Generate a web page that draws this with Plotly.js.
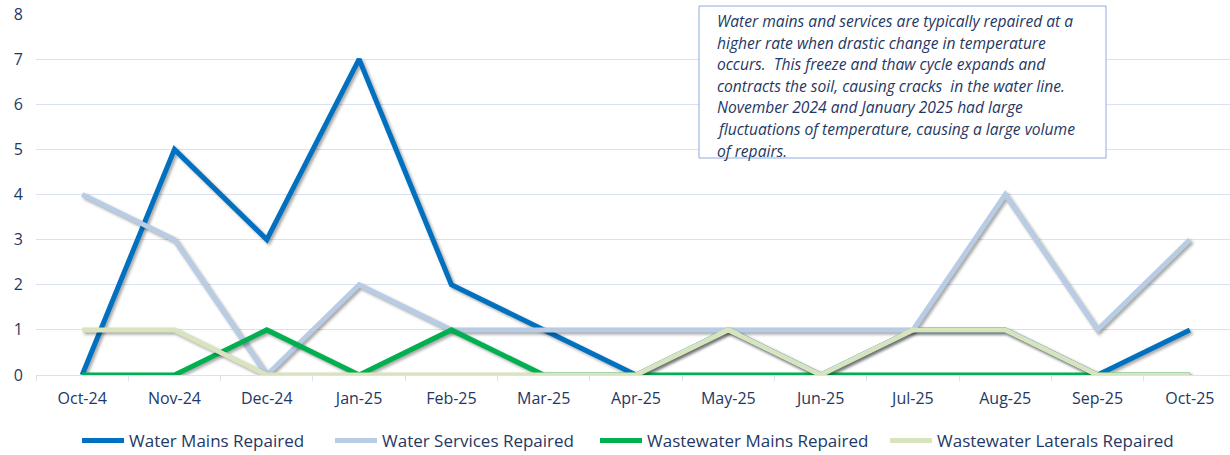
<!DOCTYPE html>
<html>
<head>
<meta charset="utf-8">
<script src="https://cdn.plot.ly/plotly-3.0.1.min.js"></script>
<style>
html,body{margin:0;padding:0;background:#fff;}
#chart{width:1230px;height:455px;}
.scatterlayer .trace path.js-line{filter:drop-shadow(2px 2px 1.5px rgba(0,0,0,0.35));}
</style>
</head>
<body>
<div id="chart"></div>
<script>
const months = ["Oct-24","Nov-24","Dec-24","Jan-25","Feb-25","Mar-25","Apr-25","May-25","Jun-25","Jul-25","Aug-25","Sep-25","Oct-25"];
const waterMains = [0,5,3,7,2,1,0,1,0,1,1,0,1];
const waterServices = [4,3,0,2,1,1,1,1,1,1,4,1,3];
const wastewaterMains = [0,0,1,0,1,0,0,0,0,0,0,0,0];
const wastewaterLaterals = [1,1,0,0,0,0,0,1,0,1,1,0,0];
const seriesNames = ["Water Mains Repaired","Water Services Repaired","Wastewater Mains Repaired","Wastewater Laterals Repaired"];
const noteLines = [
  "Water mains and services are typically repaired at a",
  "higher rate when drastic change in temperature",
  "occurs.  This freeze and thaw cycle expands and",
  "contracts the soil, causing cracks  in the water line.",
  "November 2024 and January 2025 had large",
  "fluctuations of temperature, causing a large volume",
  "of repairs."
];

const navy = "#1F3864";
const fontFam = "'Open Sans', sans-serif";
const plotL = 36, plotW = 1194, plotTop = 14, plotH = 361;

function tr(name, y, color, lg){
  return {x: months, y: y, name: name, type: "scatter", mode: "lines", legend: lg,
    line: {color: color, width: 5, shape: "linear"}, hoverinfo: "none"};
}
const data = [
  tr(seriesNames[0], waterMains, "#0070C0", "legend"),
  tr(seriesNames[1], waterServices, "#B8CCE4", "legend2"),
  tr(seriesNames[2], wastewaterMains, "#00B050", "legend3"),
  tr(seriesNames[3], wastewaterLaterals, "#D7E4BD", "legend4")
];

const annotations = noteLines.map((t, i) => ({
  xref: "paper", yref: "paper",
  x: (715 - plotL) / plotW, xanchor: "left",
  y: 1 - ((21 + i * 21.6) - plotTop) / plotH, yanchor: "middle",
  text: t, showarrow: false, align: "left",
  font: {family: fontFam, size: 15.6, color: navy, style: "italic"}
}));

function lg(px){
  return {orientation: "h", x: (px - plotL) / plotW, xanchor: "left",
    yref: "container", y: (455 - 441) / 455, yanchor: "middle", bgcolor: "rgba(0,0,0,0)",
    font: {family: fontFam, size: 17, color: navy}, itemwidth: 42};
}

const layout = {
  width: 1230, height: 455,
  margin: {l: plotL, r: 0, t: plotTop, b: 80},
  paper_bgcolor: "#fff", plot_bgcolor: "#fff",
  showlegend: true,
  font: {family: fontFam, color: navy, size: 16},
  xaxis: {
    type: "category", range: [-0.5, 12.435], tickson: "boundaries", ticks: "outside", ticklen: 5,
    tickcolor: "#D9E1F2", showline: true, linecolor: "#D9E1F2", linewidth: 1,
    showgrid: false, zeroline: false, fixedrange: true, ticklabelstandoff: 9,
    tickfont: {family: fontFam, size: 16, color: navy}
  },
  yaxis: {
    range: [0, 8], dtick: 1, showgrid: true, gridcolor: "#D9E1F2", gridwidth: 1,
    zeroline: false, showline: false, ticks: "", fixedrange: true, ticklabelstandoff: 12,
    tickfont: {family: fontFam, size: 16, color: navy}
  },
  legend: lg(77),
  legend2: lg(330),
  legend3: lg(595),
  legend4: lg(885),
  shapes: [{
    type: "rect", xref: "paper", yref: "paper",
    x0: (699 - plotL) / plotW, x1: (1106 - plotL) / plotW,
    y0: 1 - (158 - plotTop) / plotH, y1: 1 - (6 - plotTop) / plotH,
    line: {color: "#8FAADC", width: 1}, fillcolor: "#fff", layer: "above"
  }],
  annotations: annotations
};

Plotly.newPlot("chart", data, layout, {displayModeBar: false, staticPlot: true});
</script>
</body>
</html>
